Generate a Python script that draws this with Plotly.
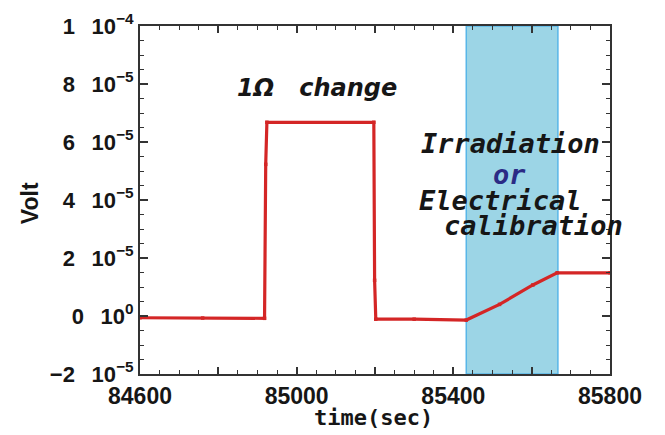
import plotly.graph_objects as go

# ---- data ----
time_s = [84600, 84760, 84918, 84921, 84924, 85197, 85199, 85202, 85300, 85433,
          85518, 85603, 85665, 85800]
volt = [-0.06e-5, -0.07e-5, -0.08e-5, 5.23e-5, 6.68e-5, 6.68e-5, 1.23e-5, -0.11e-5,
        -0.11e-5, -0.14e-5, 0.40e-5, 1.07e-5, 1.49e-5, 1.49e-5]

shade_start = 85433
shade_end = 85667

y_tick_vals = [-2e-5, 0, 2e-5, 4e-5, 6e-5, 8e-5, 1e-4]
GAP = "\u00a0\u00a0\u2009"
y_tick_text = ["\u22122" + GAP + "10<sup>\u22125</sup>", "0" + GAP + "10<sup>0</sup>",
               "2" + GAP + "10<sup>\u22125</sup>", "4" + GAP + "10<sup>\u22125</sup>",
               "6" + GAP + "10<sup>\u22125</sup>", "8" + GAP + "10<sup>\u22125</sup>",
               "1" + GAP + "10<sup>\u22124</sup>"]

RED = "rgb(212,38,38)"
AXIS = "#333333"
INK = "#161616"

fig = go.Figure()

fig.add_shape(type="rect", xref="x", yref="paper", x0=shade_start, x1=shade_end,
              y0=0, y1=1, fillcolor="rgb(156,213,230)",
              line=dict(color="rgb(88,182,232)", width=1.5), layer="below")

fig.add_trace(go.Scatter(x=time_s, y=volt, mode="lines+markers",
                         line=dict(color=RED, width=3.2),
                         marker=dict(color=RED, size=3.5, symbol="square"),
                         showlegend=False, hoverinfo="skip"))

tick_font = dict(family="Liberation Sans, Arial", size=22, color=INK, weight="bold")

# the page body has an 8px margin, so the figure is sized to fit the window
fig.update_layout(
    width=657, height=427,
    margin=dict(l=132, r=55, t=18, b=61, autoexpand=False),
    paper_bgcolor="white", plot_bgcolor="white",
    showlegend=False,
)

fig.update_xaxes(range=[84600, 85800], tickmode="linear", tick0=84600, dtick=200,
                 ticklabelstep=2, tickformat="d", ticks="inside", ticklen=7,
                 tickwidth=1.5, tickcolor=AXIS, showline=True, linecolor=AXIS,
                 linewidth=2, mirror="ticks", showgrid=False, zeroline=False,
                 tickfont=dict(family="Liberation Sans, Arial", size=23, color=INK,
                               weight="bold"),
                 automargin=False,
                 minor=dict(dtick=50, tick0=84600, ticks="inside", ticklen=4,
                            tickwidth=1.2, tickcolor=AXIS, showgrid=False))

fig.update_yaxes(range=[-2e-5, 1e-4], tickmode="array", tickvals=y_tick_vals,
                 ticktext=y_tick_text, ticks="inside", ticklen=8, tickwidth=1.5,
                 tickcolor=AXIS, showline=True, linecolor=AXIS, linewidth=2,
                 mirror="ticks", showgrid=False, zeroline=False, tickfont=tick_font,
                 automargin=False,
                 minor=dict(dtick=0.5e-5, tick0=0, ticks="inside", ticklen=4,
                            tickwidth=1.2, tickcolor=AXIS, showgrid=False))

mono = "DejaVu Sans Mono"
sans = "DejaVu Sans, Liberation Sans"
notes = [
    ("<i>1\u03a9\u00a0\u00a0\u00a0change</i>", 0.377, 0.822, sans, 24, INK, 0),
    ("<i>Irradiation</i>", 0.789, 0.661, mono, 27, INK, 0),
    ("<i>or</i>", 0.786, 0.572, mono, 27, "#2b2b85", 0),
    ("<i>Electrical</i>", 0.768, 0.500, mono, 27, INK, 0),
    ("<i>calibration</i>", 0.838, 0.428, mono, 27, INK, 0),
    ("Volt", -0.234, 0.491, "Liberation Sans, Arial", 23, INK, -90),
    ("time(sec)", 0.496, -0.126, mono, 22, INK, 0),
]
for text, xp, yp, fam, size, col, ang in notes:
    fig.add_annotation(text=text, xref="paper", yref="paper", x=xp, y=yp,
                       xanchor="center", yanchor="middle", showarrow=False,
                       textangle=ang,
                       font=dict(family=fam, size=size, color=col, weight="bold"))

fig.write_html("out.html")
